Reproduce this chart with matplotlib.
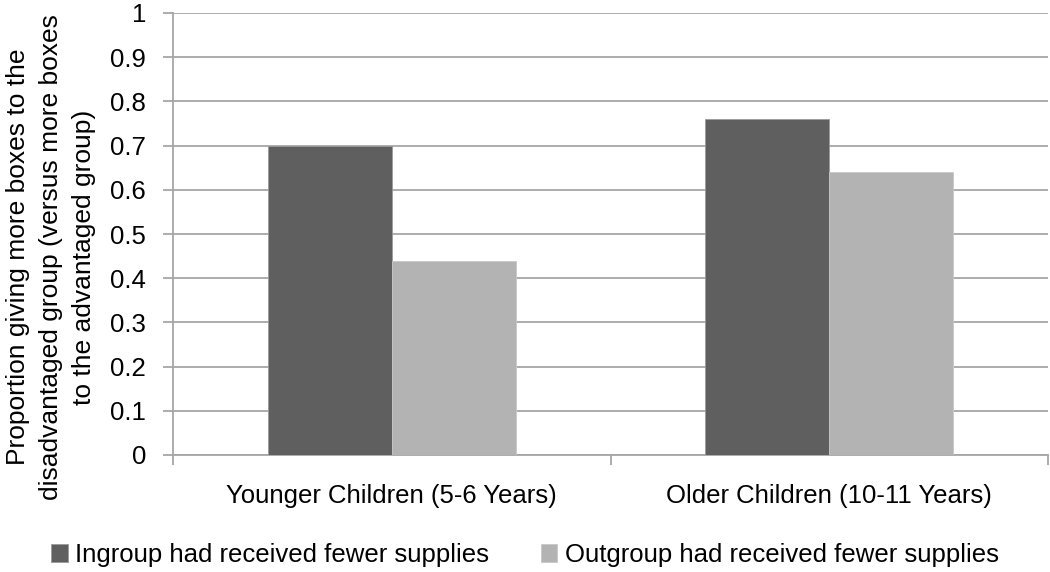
import numpy as np
import matplotlib
matplotlib.use("Agg")
import matplotlib.pyplot as plt

plt.rcParams['font.family'] = ['Liberation Sans', 'DejaVu Sans']

# data
categories = ['Younger Children (5-6 Years)', 'Older Children (10-11 Years)']
series_names = ['Ingroup had received fewer supplies',
                'Outgroup had received fewer supplies']
ingroup = [0.70, 0.76]
outgroup = [0.44, 0.64]
y_ticks = [0, 0.1, 0.2, 0.3, 0.4, 0.5, 0.6, 0.7, 0.8, 0.9, 1]
y_tick_labels = ['0', '0.1', '0.2', '0.3', '0.4', '0.5', '0.6', '0.7', '0.8', '0.9', '1']

dark = '#5f5f5f'
light = '#b3b3b3'
grid_col = '#a6a6a6'

fig = plt.figure(figsize=(10.5, 5.72), dpi=100)
ax = fig.add_axes([173 / 1050, 1 - 455 / 572, 875 / 1050, 442 / 572])

x = np.arange(len(categories))
w = 0.283
ax.bar(x - w / 2, ingroup, w, color=dark, edgecolor='#9a9a9a', linewidth=0.6,
       label=series_names[0], zorder=3)
ax.bar(x + w / 2, outgroup, w, color=light, edgecolor='#c8c8c8', linewidth=0.6,
       label=series_names[1], zorder=3)

ax.set_xlim(-0.5, 1.5)
ax.set_ylim(0, 1)
ax.set_yticks(y_ticks)
ax.set_yticklabels(y_tick_labels)
ax.yaxis.grid(True, color=grid_col, linewidth=1.3, zorder=0)
ax.set_axisbelow(True)

ax.set_xticks(x)
ax.set_xticklabels(categories)
ax.set_xticks([-0.5, 0.5, 1.5], minor=True)
ax.tick_params(axis='x', which='major', length=0, pad=21, labelsize=18.5)
ax.tick_params(axis='x', which='minor', length=7.5, width=1.3, color=grid_col)
ax.tick_params(axis='y', length=7.5, width=1.3, color=grid_col, pad=12, labelsize=18.5)

for s in ['top', 'right']:
    ax.spines[s].set_visible(False)
for s in ['left', 'bottom']:
    ax.spines[s].set_color(grid_col)
    ax.spines[s].set_linewidth(1.3)

fig.text(51 / 1050, 1 - 257 / 572,
         'Proportion giving more boxes to the\ndisadvantaged group (versus more boxes\nto the advantaged group)',
         rotation=90, ha='center', va='center', multialignment='center',
         fontsize=19, linespacing=1.45)

fig.legend(loc='center', bbox_to_anchor=(525 / 1050, 1 - 555 / 572), ncol=2,
           frameon=False, fontsize=18.5, handlelength=0.65, handleheight=0.65,
           handletextpad=0.3, columnspacing=2.0, borderpad=0)

fig.savefig('out.png', dpi=100)
